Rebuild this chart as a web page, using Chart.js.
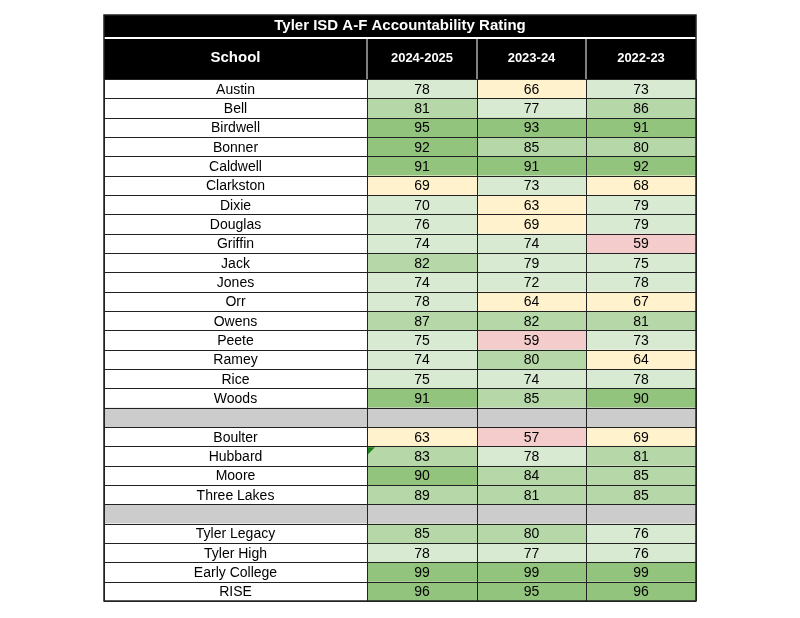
<!DOCTYPE html>
<html><head><meta charset="utf-8">
<script src="https://cdn.jsdelivr.net/npm/chart.js@4"></script>
<style>html,body{margin:0;background:#fff}</style></head>
<body><canvas id="c" width="800" height="618"></canvas>
<script>
const title = "Tyler ISD A-F Accountability Rating";
const columns = ["2024-2025", "2023-24", "2022-23"];
const schools = ["Austin","Bell","Birdwell","Bonner","Caldwell","Clarkston","Dixie","Douglas","Griffin","Jack","Jones","Orr","Owens","Peete","Ramey","Rice","Woods","","Boulter","Hubbard","Moore","Three Lakes","","Tyler Legacy","Tyler High","Early College","RISE"];
const y2425 = [78,81,95,92,91,69,70,76,74,82,74,78,87,75,74,75,91,null,63,83,90,89,null,85,78,99,96];
const y2324 = [66,77,93,85,91,73,63,69,74,79,72,64,82,59,80,74,85,null,57,78,84,81,null,80,77,99,95];
const y2223 = [73,86,91,80,92,68,79,79,59,75,78,67,81,73,64,78,90,null,69,81,85,85,null,76,76,99,96];
const series = [y2425, y2324, y2223];

function fillFor(v){
  if (v===null) return "#cccccc";
  if (v>=90) return "#93c47d";
  if (v>=80) return "#b6d7a8";
  if (v>=70) return "#d9ead3";
  if (v>=60) return "#fff2cc";
  return "#f4cccc";
}
// column edges in x-units: school col, then three score cols
const edges = [0, 263, 373, 482, 592];
const font = '"Liberation Sans", Arial, sans-serif';

const tablePlugin = {
  id: 'table',
  afterDraw(chart){
    const ctx = chart.ctx, xs = chart.scales.x, ys = chart.scales.y;
    const X = edges.map(e => xs.getPixelForValue(e));
    const top = chart.chartArea.top;
    const rowPx = (i) => ys.getPixelForValue(i);
    ctx.save();
    // title & header
    ctx.fillStyle = "#000";
    ctx.fillRect(X[0], 15, X[4]-X[0], top-15);
    ctx.fillStyle = "#fff";
    ctx.font = "bold 15px " + font;
    ctx.textAlign = "center"; ctx.textBaseline = "middle";
    ctx.fillText(title, (X[0]+X[4])/2, 26);
    ctx.fillRect(X[0], 37, X[4]-X[0], 2);
    ctx.font = "bold 15px " + font;
    ctx.fillText("School", (X[0]+X[1])/2, 58);
    ctx.font = "bold 13px " + font;
    columns.forEach((c,i)=>ctx.fillText(c, (X[i+1]+X[i+2])/2, 58));
    ctx.strokeStyle = "#aaa"; ctx.lineWidth = 1.5;
    for (let i=1;i<4;i++){ ctx.beginPath(); ctx.moveTo(X[i],39); ctx.lineTo(X[i],top); ctx.stroke(); }
    // rows
    schools.forEach((s, r) => {
      const y0 = rowPx(r), y1 = rowPx(r+1);
      const blank = s === "";
      ctx.fillStyle = blank ? "#cccccc" : "#fff";
      ctx.fillRect(X[0], y0, X[1]-X[0], y1-y0);
      for (let k=0;k<3;k++){
        ctx.fillStyle = fillFor(series[k][r]);
        ctx.fillRect(X[k+1], y0, X[k+2]-X[k+1], y1-y0);
      }
      ctx.fillStyle = "#000";
      ctx.font = "14px " + font;
      const ym = (y0+y1)/2 + 1;
      if (!blank) ctx.fillText(s, (X[0]+X[1])/2, ym);
      for (let k=0;k<3;k++){
        const v = series[k][r];
        if (v!==null) ctx.fillText(String(v), (X[k+1]+X[k+2])/2, ym);
      }
    });
    // grid
    ctx.strokeStyle = "#222"; ctx.lineWidth = 1;
    for (let r=0;r<=schools.length;r++){
      const y = Math.round(rowPx(r))+0.5;
      ctx.beginPath(); ctx.moveTo(X[0],y); ctx.lineTo(X[4],y); ctx.stroke();
    }
    const bottom = rowPx(schools.length);
    for (let i=0;i<5;i++){
      const x = Math.round(X[i])+0.5;
      ctx.beginPath(); ctx.moveTo(x,top); ctx.lineTo(x,bottom); ctx.stroke();
    }
    ctx.lineWidth = 1.5;
    ctx.strokeRect(X[0], 15, X[4]-X[0], bottom-15);
    // green comment triangle on Hubbard
    const hr = schools.indexOf("Hubbard");
    const ty = rowPx(hr);
    ctx.fillStyle = "#1a7f1a";
    ctx.beginPath(); ctx.moveTo(X[1]+1, ty+1); ctx.lineTo(X[1]+8, ty+1); ctx.lineTo(X[1]+1, ty+8); ctx.closePath(); ctx.fill();
    ctx.restore();
  }
};

new Chart(document.getElementById('c'), {
  type: 'scatter',
  data: { datasets: [{ data: [] }] },
  options: {
    responsive: false, animation: false,
    layout: { padding: { top: 79, left: 104, right: 104, bottom: 17 } },
    plugins: { legend: { display: false }, tooltip: { enabled: false } },
    scales: {
      x: { type: 'linear', min: 0, max: 592, display: false },
      y: { type: 'linear', min: 0, max: 27, reverse: true, display: false }
    }
  },
  plugins: [tablePlugin]
});
</script></body></html>
